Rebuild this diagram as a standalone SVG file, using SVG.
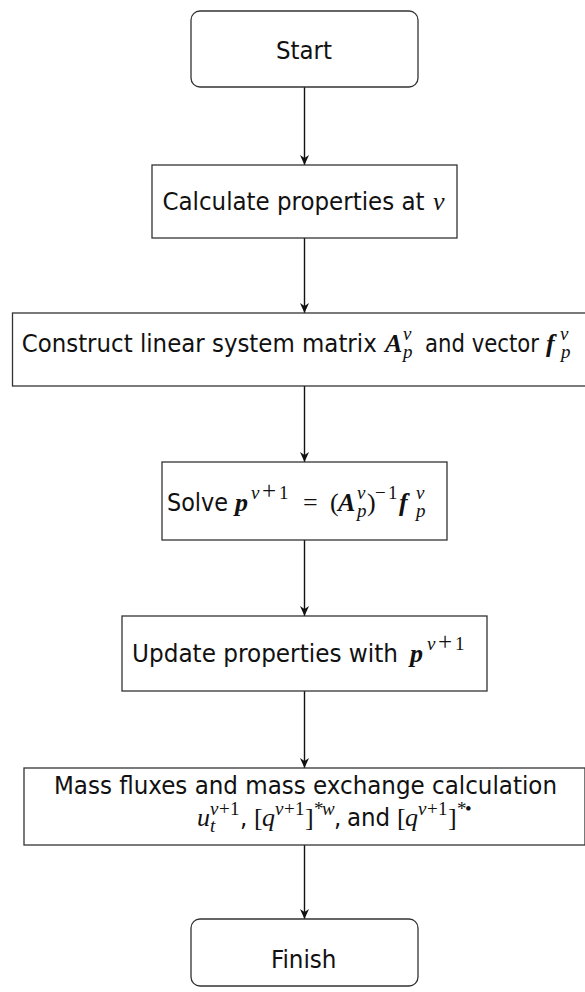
<svg xmlns="http://www.w3.org/2000/svg" width="585" height="992" viewBox="0 0 585 992">
<defs>
<marker id="ah" markerWidth="12" markerHeight="12" refX="10" refY="5" orient="auto" markerUnits="userSpaceOnUse">
<path d="M0,0.5 L10,5 L0,9.5 L3,5 Z" fill="#111"/>
</marker>
</defs>
<style>
.box{fill:#fff;stroke:#333;stroke-width:1.3}
.t{font-family:"Liberation Serif","DejaVu Serif",serif;font-size:26px;fill:#111}
.s{font-family:"DejaVu Sans Condensed","Liberation Sans",Arial,sans-serif;font-stretch:condensed;font-style:normal;font-weight:normal;font-size:25.5px}
.i{font-style:italic}
.b{font-weight:bold;font-style:italic}
.sup{font-size:19px}
.pl{font-size:25px}
.con{stroke:#111;stroke-width:1.4;fill:none;marker-end:url(#ah)}
</style>
<rect width="585" height="992" fill="#fff"/>
<g id="connectors">
<line class="con" x1="304.5" y1="87" x2="304.5" y2="165"/>
<line class="con" x1="304.5" y1="238" x2="304.5" y2="313"/>
<line class="con" x1="304.5" y1="386" x2="304.5" y2="462"/>
<line class="con" x1="304.5" y1="540" x2="304.5" y2="616"/>
<line class="con" x1="304.5" y1="691" x2="304.5" y2="768"/>
<line class="con" x1="304.5" y1="845" x2="304.5" y2="919"/>
</g>
<g id="start">
<rect class="box" x="191" y="11" width="227" height="76" rx="9"/>
<text class="t s" x="276" y="59" textLength="56" lengthAdjust="spacingAndGlyphs">Start</text>
</g>
<g id="calc">
<rect class="box" x="152" y="165" width="305" height="73"/>
<text class="t"><tspan class="s" x="162.5" y="210" textLength="262" lengthAdjust="spacingAndGlyphs">Calculate properties at</tspan><tspan class="i" x="433" y="210">ν</tspan></text>
</g>
<g id="construct">
<rect class="box" x="12.5" y="313" width="584" height="73"/>
<text class="t"><tspan class="s" x="21.7" y="352" textLength="355" lengthAdjust="spacingAndGlyphs">Construct linear system matrix</tspan><tspan class="b" x="385" y="352">A</tspan><tspan class="i sup" x="403" y="340">ν</tspan><tspan class="i sup" x="403" y="358">p</tspan><tspan class="s" x="425" y="352" textLength="114" lengthAdjust="spacingAndGlyphs">and vector</tspan><tspan class="b" x="546" y="352">f</tspan><tspan class="i sup" x="560" y="340">ν</tspan><tspan class="i sup" x="561" y="358">p</tspan></text>
</g>
<g id="solve">
<rect class="box" x="162" y="462" width="285" height="78"/>
<text class="t"><tspan class="s" x="167" y="511" textLength="61" lengthAdjust="spacingAndGlyphs">Solve</tspan><tspan class="b" x="235" y="511">p</tspan><tspan class="i sup" x="251" y="499">ν</tspan><tspan class="pl" x="262" y="499">+</tspan><tspan class="sup" x="279" y="499">1</tspan><tspan x="303" y="511">=</tspan><tspan x="330" y="511">(</tspan><tspan class="b" x="338" y="511">A</tspan><tspan class="i sup" x="357" y="499">ν</tspan><tspan class="i sup" x="357" y="517">p</tspan><tspan x="367" y="511">)</tspan><tspan class="sup" x="375" y="499">−</tspan><tspan class="sup" x="388" y="499">1</tspan><tspan class="b" x="399" y="511">f</tspan><tspan class="i sup" x="416" y="499">ν</tspan><tspan class="i sup" x="416" y="517">p</tspan></text>
</g>
<g id="update">
<rect class="box" x="122" y="616" width="365" height="75"/>
<text class="t"><tspan class="s" x="132" y="662" textLength="266" lengthAdjust="spacingAndGlyphs">Update properties with</tspan><tspan class="b" x="410" y="662">p</tspan><tspan class="i sup" x="427" y="650">ν</tspan><tspan class="pl" x="438" y="650">+</tspan><tspan class="sup" x="455" y="650">1</tspan></text>
</g>
<g id="mass">
<rect class="box" x="24" y="768" width="561" height="77"/>
<text class="t s" x="54" y="794" textLength="503" lengthAdjust="spacingAndGlyphs">Mass fluxes and mass exchange calculation</text>
<text class="t"><tspan class="i" x="197" y="826">u</tspan><tspan class="i sup" x="210" y="815">ν</tspan><tspan class="sup" x="219" y="815">+</tspan><tspan class="sup" x="230" y="815">1</tspan><tspan class="i sup" x="210" y="832">t</tspan><tspan class="s" x="240" y="826">,</tspan><tspan x="254" y="826">[</tspan><tspan class="i" x="262" y="826">q</tspan><tspan class="i sup" x="275" y="815">ν</tspan><tspan class="sup" x="284" y="815">+</tspan><tspan class="sup" x="295" y="815">1</tspan><tspan x="305" y="826">]</tspan><tspan class="sup" x="314" y="815">*</tspan><tspan class="i sup" x="322" y="815">w</tspan><tspan class="s" x="334" y="826">,</tspan><tspan class="s" x="347" y="826">and</tspan><tspan x="397" y="826">[</tspan><tspan class="i" x="405" y="826">q</tspan><tspan class="i sup" x="418" y="815">ν</tspan><tspan class="sup" x="427" y="815">+</tspan><tspan class="sup" x="438" y="815">1</tspan><tspan x="448" y="826">]</tspan><tspan class="sup" x="457" y="815">*</tspan><tspan class="sup" x="465" y="815">•</tspan></text>
</g>
<g id="finish">
<rect class="box" x="191" y="919" width="227" height="67" rx="9"/>
<text class="t s" x="271" y="968" textLength="65.5" lengthAdjust="spacingAndGlyphs">Finish</text>
</g>
</svg>
